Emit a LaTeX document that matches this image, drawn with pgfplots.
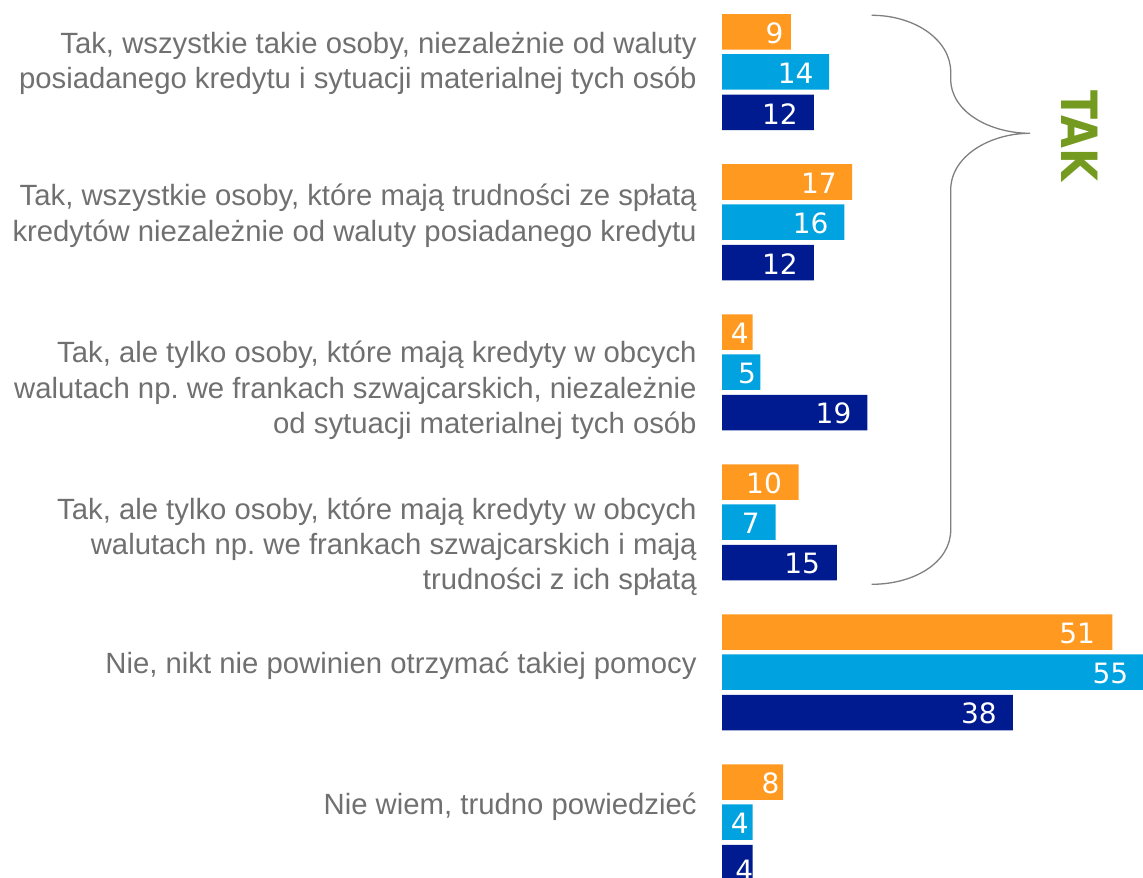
\documentclass[border=0pt]{standalone}
\usepackage{fontspec}
\setmainfont{Liberation Sans}
\newfontfamily\numfont{DejaVu Sans}
\newfontfamily\takfont{DejaVu Sans}
\usepackage{graphicx}
\usepackage{pgfplots}
\usepackage{pgfplotstable}
\pgfplotsset{compat=1.18}
\frenchspacing
\definecolor{cOr}{HTML}{FF991F}
\definecolor{cBl}{HTML}{00A3E0}
\definecolor{cNv}{HTML}{001A8F}
\definecolor{cTx}{HTML}{707070}
\definecolor{cGr}{HTML}{749B1F}
\definecolor{cBr}{HTML}{808080}

% y = bar centre (px from top), x = value, gx/gy = label offsets (px)
\pgfplotstableread{
y     x   gx     gy
32    9   -7     1.2
182   17  -15    1.2
332   4   -3.6   1.2
482   10  -16.3  1.2
632   51  -17    1.2
782   8   -3.4   1.2
}\orangedata
\pgfplotstableread{
y     x   gx     gy
72    14  -15.3  1.2
222   16  -15.6  1.2
372   5   -4     1.2
522   7   -15.6  1.2
672   55  -14.4  1.2
822   4   -3.6   1.2
}\bluedata
\pgfplotstableread{
y      x   gx     gy
112.5  12  -15.7  1.2
262.5  12  -15.7  1.2
412.5  19  -15.7  1.2
562.5  15  -16.4  1.2
712.5  38  -15.7  1.2
862.5  4   1      8
}\navydata

\begin{document}
\begin{tikzpicture}
\useasboundingbox (0pt,0pt) rectangle (571.5pt,438.5pt);
\begin{axis}[
  at={(466.25pt,219.25pt)}, anchor=center,
  scale only axis, width=210.5pt, height=438.5pt,
  xmin=0, xmax=55, ymin=0, ymax=877, y dir=reverse,
  axis x line=none, axis y line=left,
  y axis line style={draw=none},
  major tick length=0pt,
  /pgf/number format/assume math mode=true,
  ytick={63.7,215.8,390.5,546.6,666,807},
  yticklabels={
    {Tak, wszystkie takie osoby, niezależnie od waluty\\posiadanego kredytu i sytuacji materialnej tych osób},
    {Tak, wszystkie osoby, które mają trudności ze spłatą\\kredytów niezależnie od waluty posiadanego kredytu},
    {Tak, ale tylko osoby, które mają kredyty w obcych\\walutach np. we frankach szwajcarskich, niezależnie\\od sytuacji materialnej tych osób},
    {Tak, ale tylko osoby, które mają kredyty w obcych\\walutach np. we frankach szwajcarskich i mają\\trudności z ich spłatą},
    {Nie, nikt nie powinien otrzymać takiej pomocy},
    {Nie wiem, trudno powiedzieć}
  },
  yticklabel style={align=right, anchor=east, inner sep=0pt, xshift=-12.5pt,
    text=cTx, font=\fontsize{14.65pt}{17.65pt}\selectfont},
  xbar, bar width=35.5, bar shift=0pt,
  nodes near coords,
  every node near coord/.append style={anchor=east, inner sep=0pt,
    text=white, font=\numfont\fontsize{14pt}{16pt}\selectfont,
    xshift={0.5pt*\gx}, yshift={-0.5pt*\gy}},
]
\addplot[fill=cOr, draw=none,
  visualization depends on={\thisrow{gx} \as \gx},
  visualization depends on={\thisrow{gy} \as \gy}]
  table[x=x, y=y] {\orangedata};
\addplot[fill=cBl, draw=none,
  visualization depends on={\thisrow{gx} \as \gx},
  visualization depends on={\thisrow{gy} \as \gy}]
  table[x=x, y=y] {\bluedata};
\addplot[fill=cNv, draw=none,
  visualization depends on={\thisrow{gx} \as \gx},
  visualization depends on={\thisrow{gy} \as \gy}]
  table[x=x, y=y] {\navydata};
\end{axis}
\begin{scope}[x=0.5pt, y=-0.5pt, shift={(0pt,438.5pt)}]
  \draw[cBr, line width=0.65pt]
    (871.7,15.3) .. controls (915,15.3) and (950.7,40) .. (950.7,72)
    -- (950.7,79) .. controls (950.7,112) and (990,133.3) .. (1030,133.3)
    .. controls (990,133.3) and (950.7,156) .. (950.7,190)
    -- (950.7,530) .. controls (950.7,562) and (915,584.3) .. (871.7,584.3);
  \node[rotate=-90, text=cGr, inner sep=0pt,
    font=\takfont\bfseries\fontsize{25pt}{25pt}\selectfont]
    at (1080,136) {\scalebox{0.85}[1]{TAK}};
\end{scope}
\end{tikzpicture}
\end{document}
